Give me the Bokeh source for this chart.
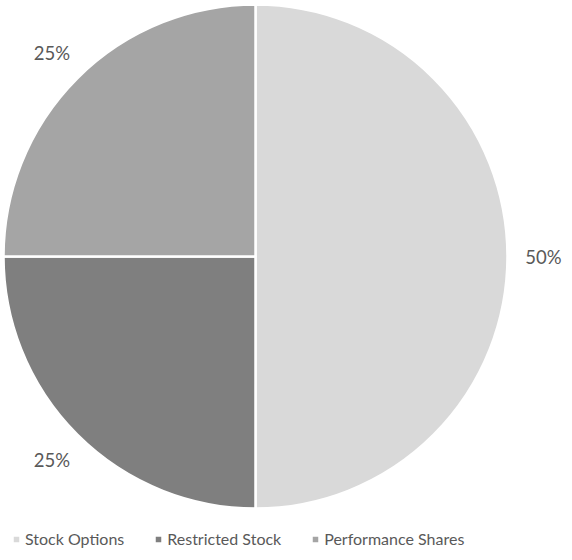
import numpy as np
from bokeh.plotting import figure
from bokeh.models import ColumnDataSource, Range1d, Legend, LegendItem
from bokeh.core.properties import value
from bokeh.embed import file_html
from bokeh.resources import INLINE

categories = ["Stock Options", "Restricted Stock", "Performance Shares"]
shares = [50, 25, 25]
labels = ["50%", "25%", "25%"]
colors = ["#d9d9d9", "#7f7f7f", "#a5a5a5"]

W, H = 564, 552
cx, cy, r = 255, 296, 252

total = float(sum(shares))
fracs = np.array(shares) / total
ends = np.pi / 2 - 2 * np.pi * np.cumsum(fracs)
starts = ends + 2 * np.pi * fracs
mids = (starts + ends) / 2
label_r = 288

src = ColumnDataSource(dict(
    cat=categories, start=starts.tolist(), end=ends.tolist(), color=colors,
))
lab = ColumnDataSource(dict(
    x=(cx + label_r * np.cos(mids)).tolist(),
    y=(cy + label_r * np.sin(mids)).tolist(),
    text=labels,
))

p = figure(width=W, height=H, output_backend="svg", toolbar_location=None,
           x_range=Range1d(0, W), y_range=Range1d(0, H), min_border=0)
p.axis.visible = False
p.grid.visible = False
p.outline_line_color = None

wr = p.wedge(x=cx, y=cy, radius=r, start_angle="end", end_angle="start",
             direction="anticlock", fill_color="color", line_color="white",
             line_width=2.5, source=src)

p.text(x="x", y="y", text="text", source=lab, text_align="center",
       text_baseline="middle", text_color="#595959",
       text_font=value("Lato"), text_font_size="18.5px")

items = [LegendItem(label=c, renderers=[wr], index=i) for i, c in enumerate(categories)]
legend = Legend(items=items, orientation="horizontal", location=(11, 4),
                glyph_width=10, glyph_height=10, label_standoff=4, spacing=29,
                padding=0, margin=0, background_fill_alpha=0,
                border_line_color=None, label_text_color="#595959",
                label_text_font="Lato", label_text_font_size="16px",
                label_height=16)
p.add_layout(legend, "center")

open("out.html", "w").write(file_html(p, INLINE))
